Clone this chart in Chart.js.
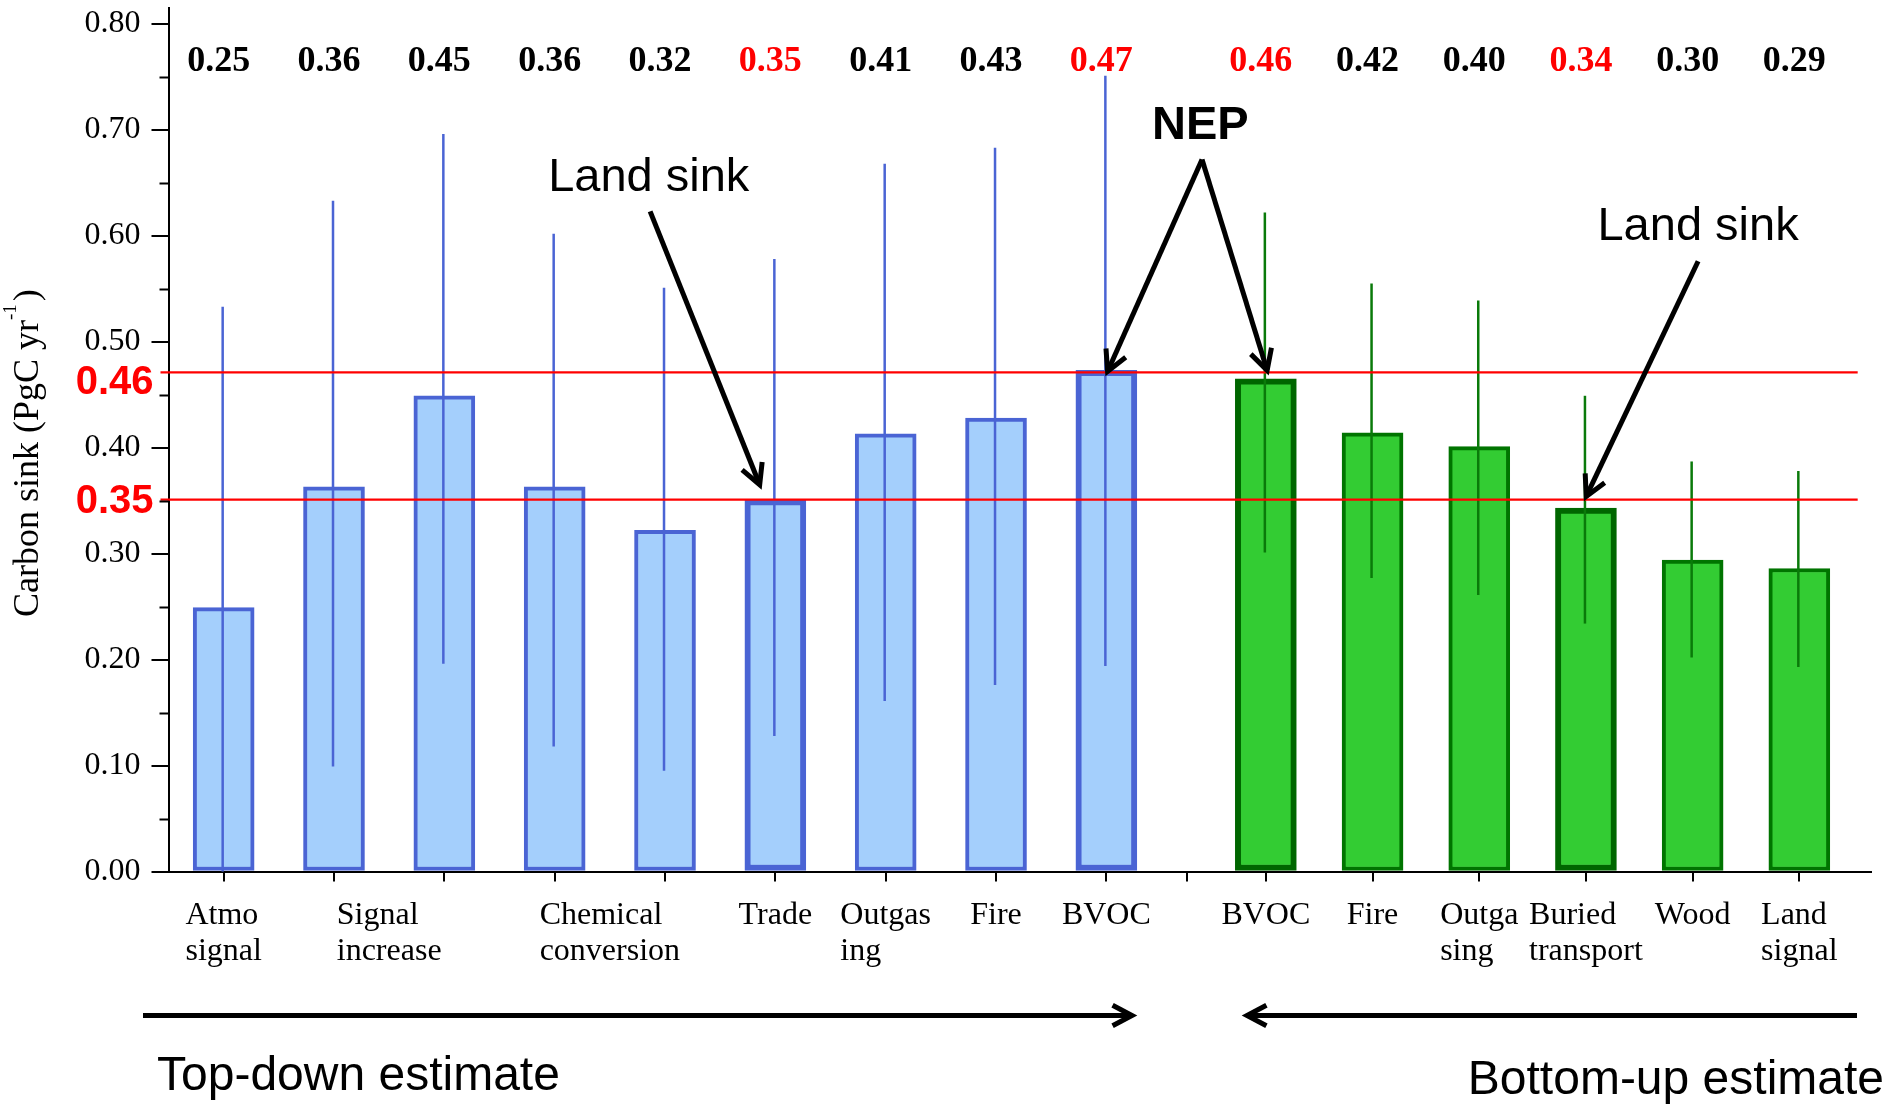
<!DOCTYPE html>
<html>
<head>
<meta charset="utf-8">
<title>Carbon sink estimates</title>
<script src="https://cdn.jsdelivr.net/npm/chart.js@4.4.1/dist/chart.umd.min.js"></script>
<style>
  html, body { margin: 0; padding: 0; background: #fff; overflow: hidden; }
  #wrap { width: 1895px; height: 1105px; }
</style>
</head>
<body>
<div id="wrap"><canvas id="chart" width="1895" height="1105"></canvas></div>
<script>
// ---------------------------------------------------------------------------
// DATA
// ---------------------------------------------------------------------------

// top-down estimate (blue); null = bar shares the label of the bar before it
const topDownLabels = [['Atmo', 'signal'], ['Signal', 'increase'], null, ['Chemical', 'conversion'], null,
  ['Trade'], ['Outgas', 'ing'], ['Fire'], ['BVOC']];
const topDownValues = [0.249, 0.363, 0.449, 0.363, 0.322, 0.351, 0.413, 0.428, 0.473];
const topDownLow    = [0.000, 0.099, 0.196, 0.118, 0.095, 0.128, 0.161, 0.176, 0.194];
const topDownHigh   = [0.533, 0.633, 0.696, 0.602, 0.551, 0.578, 0.668, 0.683, 0.751];
const topDownText   = ['0.25', '0.36', '0.45', '0.36', '0.32', '0.35', '0.41', '0.43', '0.47'];

// bottom-up estimate (green)
const bottomUpLabels = [['BVOC'], ['Fire'], ['Outga', 'sing'], ['Buried', 'transport'], ['Wood'], ['Land', 'signal']];
const bottomUpValues = [0.465, 0.414, 0.401, 0.343, 0.294, 0.286];
const bottomUpLow    = [0.301, 0.277, 0.261, 0.234, 0.202, 0.193];
const bottomUpHigh   = [0.622, 0.555, 0.539, 0.449, 0.387, 0.378];
const bottomUpText   = ['0.46', '0.42', '0.40', '0.34', '0.30', '0.29'];

// reference lines (land sink / NEP)
const refLineValues = [0.471, 0.351];
const refLineText   = ['0.46', '0.35'];

const yTickValues = [0, 0.1, 0.2, 0.3, 0.4, 0.5, 0.6, 0.7, 0.8];
const yMinorValues = [0.05, 0.15, 0.25, 0.35, 0.45, 0.55, 0.65, 0.75];

// ---------------------------------------------------------------------------
// STYLE / LAYOUT
// ---------------------------------------------------------------------------

const SERIF = "'Liberation Serif', 'Times New Roman', serif";
const SANS = "'Liberation Sans', Arial, sans-serif";

const BLUE_FILL = '#a4cffc';
const BLUE_EDGE = '#4a64d4';
const GREEN_FILL = '#33cc33';
const GREEN_EDGE = '#007400';
const GREEN_ERR = '#0a7a0a';
const RED = '#ff0000';

const topDownEmph = [5, 8];    // Trade, BVOC
const bottomUpEmph = [0, 3];   // BVOC, Buried transport

// x axis is in "slot" units: each top-down bar owns a slot of 1,
// then a small gap, then the bottom-up slots which are a bit narrower
const GAP = 0.462;
const RIGHT_SLOT = 0.967;
const X_MAX = 15.43;
const rightStart = topDownValues.length + GAP;
const topDownX = topDownValues.map((_, i) => i + 0.5);
const bottomUpX = bottomUpValues.map((_, i) => rightStart + (i + 0.5) * RIGHT_SLOT);
const xTickPositions = [];
for (let i = 0; i <= topDownValues.length; i++) xTickPositions.push(i);
for (let i = 0; i <= bottomUpValues.length; i++) xTickPositions.push(rightStart + i * RIGHT_SLOT);

// ---------------------------------------------------------------------------
// HELPERS
// ---------------------------------------------------------------------------

function _arrow(ctx, x1, y1, x2, y2, head, width) {
  ctx.lineWidth = width;
  ctx.lineCap = 'butt';
  ctx.lineJoin = 'miter';
  ctx.beginPath();
  ctx.moveTo(x1, y1);
  ctx.lineTo(x2, y2);
  ctx.stroke();
  const a = Math.atan2(y1 - y2, x1 - x2);
  const spread = 28 * Math.PI / 180;
  ctx.beginPath();
  ctx.moveTo(x2 + head * Math.cos(a + spread), y2 + head * Math.sin(a + spread));
  ctx.lineTo(x2, y2);
  ctx.lineTo(x2 + head * Math.cos(a - spread), y2 + head * Math.sin(a - spread));
  ctx.stroke();
}

function _drawErrors(chart, xs, lows, highs, color) {
  const { ctx, scales: { x, y } } = chart;
  ctx.save();
  ctx.strokeStyle = color;
  ctx.lineWidth = 2.5;
  xs.forEach((xv, i) => {
    const px = x.getPixelForValue(xv) - 1;
    ctx.beginPath();
    ctx.moveTo(px, y.getPixelForValue(lows[i]));
    ctx.lineTo(px, y.getPixelForValue(highs[i]));
    ctx.stroke();
  });
  ctx.restore();
}

function _drawValueTexts(chart, xs, texts, emph) {
  const { ctx, chartArea, scales: { x } } = chart;
  ctx.save();
  ctx.font = `bold 36px ${SERIF}`;
  ctx.textAlign = 'center';
  ctx.textBaseline = 'alphabetic';
  xs.forEach((xv, i) => {
    ctx.fillStyle = emph.includes(i) ? RED : '#000';
    ctx.fillText(texts[i], x.getPixelForValue(xv) - 5, chartArea.top + 63);
  });
  ctx.restore();
}

function _drawCategoryLabels(chart, xs, labels) {
  const { ctx, chartArea, scales: { x } } = chart;
  ctx.save();
  ctx.font = `32px ${SERIF}`;
  ctx.fillStyle = '#000';
  ctx.textAlign = 'left';
  ctx.textBaseline = 'alphabetic';
  labels.forEach((lines, i) => {
    if (!lines) return;
    let last = i;
    while (last + 1 < labels.length && labels[last + 1] === null) last++;
    const cx = (x.getPixelForValue(xs[i]) + x.getPixelForValue(xs[last])) / 2;
    const w = Math.max(...lines.map(l => ctx.measureText(l).width));
    lines.forEach((l, k) => {
      ctx.fillText(l, cx - w / 2, chartArea.bottom + 52 + k * 36);
    });
  });
  ctx.restore();
}

// ---------------------------------------------------------------------------
// PLUGIN: error bars, reference lines, annotations, texts
// ---------------------------------------------------------------------------

const decorations = {
  id: 'decorations',
  afterDatasetsDraw(chart) {
    const { ctx, chartArea, scales: { x, y } } = chart;

    _drawErrors(chart, topDownX, topDownLow, topDownHigh, BLUE_EDGE);
    _drawErrors(chart, bottomUpX, bottomUpLow, bottomUpHigh, GREEN_ERR);

    // red reference lines + labels
    ctx.save();
    ctx.strokeStyle = RED;
    ctx.lineWidth = 2.2;
    const lineEnd = x.getPixelForValue(xTickPositions[xTickPositions.length - 1]) + 5;
    const labelDy = [22, 13];
    refLineValues.forEach((v, i) => {
      const py = y.getPixelForValue(v);
      ctx.beginPath();
      ctx.moveTo(chartArea.left - 8, py);
      ctx.lineTo(lineEnd, py);
      ctx.stroke();
      ctx.font = `bold 40px ${SANS}`;
      ctx.fillStyle = RED;
      ctx.textAlign = 'right';
      ctx.fillText(refLineText[i], chartArea.left - 15, py + labelDy[i]);
    });
    ctx.restore();

    // annotations (positions in axis units)
    ctx.save();
    ctx.strokeStyle = '#000';
    ctx.fillStyle = '#000';
    const P = (xv, yv) => [x.getPixelForValue(xv), y.getPixelForValue(yv)];

    ctx.font = `47px ${SANS}`;
    ctx.textAlign = 'left';
    let p = P(3.441, 0.642);
    ctx.fillText('Land sink', p[0], p[1]);
    _arrow(ctx, ...P(4.365, 0.623), ...P(5.358, 0.365), 23, 5);

    p = P(12.951, 0.596);
    ctx.fillText('Land sink', p[0], p[1]);
    _arrow(ctx, ...P(13.863, 0.576), ...P(12.849, 0.354), 23, 5);

    ctx.font = `bold 47px ${SANS}`;
    ctx.textAlign = 'center';
    p = P(9.352, 0.691);
    ctx.fillText('NEP', p[0], p[1]);
    _arrow(ctx, ...P(9.367, 0.672), ...P(8.511, 0.472), 23, 5);
    _arrow(ctx, ...P(9.367, 0.672), ...P(9.957, 0.473), 23, 5);
    ctx.restore();

    _drawValueTexts(chart, topDownX, topDownText, topDownEmph);
    _drawValueTexts(chart, bottomUpX, bottomUpText, bottomUpEmph);
    _drawCategoryLabels(chart, topDownX, topDownLabels);
    _drawCategoryLabels(chart, bottomUpX, bottomUpLabels);
  },

  afterDraw(chart) {
    const { ctx, chartArea, scales: { y } } = chart;

    // minor y ticks
    ctx.save();
    ctx.strokeStyle = '#000';
    ctx.lineWidth = 2;
    yMinorValues.forEach(v => {
      const py = Math.round(y.getPixelForValue(v)) + 0.5;
      ctx.beginPath();
      ctx.moveTo(chartArea.left - 9, py);
      ctx.lineTo(chartArea.left, py);
      ctx.stroke();
    });
    ctx.restore();

    // y axis title with superscript
    ctx.save();
    ctx.translate(37.5, 617);
    ctx.rotate(-Math.PI / 2);
    ctx.fillStyle = '#000';
    ctx.textBaseline = 'alphabetic';
    ctx.textAlign = 'left';
    ctx.font = `36px ${SERIF}`;
    const main = 'Carbon sink (PgC yr';
    ctx.fillText(main, 0, 0);
    let cx = ctx.measureText(main).width;
    ctx.font = `19px ${SERIF}`;
    ctx.fillText('-1', cx, -22);
    cx += ctx.measureText('-1').width + 3;
    ctx.font = `36px ${SERIF}`;
    ctx.fillText(')', cx, 0);
    ctx.restore();

    // bottom arrows + estimate captions
    const ay = chartArea.bottom + 144;
    ctx.save();
    ctx.strokeStyle = '#000';
    ctx.fillStyle = '#000';
    _arrow(ctx, 143, ay, 1132, ay, 22, 5);
    _arrow(ctx, 1857, ay, 1247, ay, 22, 5);
    ctx.font = `48px ${SANS}`;
    ctx.textAlign = 'left';
    ctx.fillText('Top-down estimate', 157, chartArea.bottom + 218);
    ctx.textAlign = 'right';
    ctx.fillText('Bottom-up estimate', 1884, chartArea.bottom + 222);
    ctx.restore();
  }
};

// ---------------------------------------------------------------------------
// CHART
// ---------------------------------------------------------------------------

Chart.defaults.font.family = SERIF;
Chart.defaults.color = '#000';

new Chart(document.getElementById('chart'), {
  type: 'bar',
  data: {
    datasets: [
      {
        label: 'Top-down estimate',
        data: topDownValues.map((v, i) => ({ x: topDownX[i], y: v })),
        backgroundColor: BLUE_FILL,
        borderColor: BLUE_EDGE,
        borderWidth: (c) => topDownEmph.includes(c.dataIndex) ? 6 : 4,
        borderSkipped: false,
        barThickness: 61,
        grouped: false
      },
      {
        label: 'Bottom-up estimate',
        data: bottomUpValues.map((v, i) => ({ x: bottomUpX[i], y: v })),
        backgroundColor: GREEN_FILL,
        borderColor: (c) => bottomUpEmph.includes(c.dataIndex) ? '#006600' : GREEN_EDGE,
        borderWidth: (c) => bottomUpEmph.includes(c.dataIndex) ? 6 : 4,
        borderSkipped: false,
        barThickness: 61,
        grouped: false
      }
    ]
  },
  options: {
    responsive: false,
    animation: false,
    devicePixelRatio: 1,
    layout: { padding: { top: 8, right: 24, left: 0, bottom: 0 } },
    plugins: {
      legend: { display: false },
      tooltip: { enabled: false }
    },
    scales: {
      x: {
        type: 'linear',
        min: 0,
        max: X_MAX,
        offset: false,
        afterBuildTicks: (s) => { s.ticks = xTickPositions.map(v => ({ value: v })); },
        afterFit: (s) => { s.height = 233.5; s.paddingLeft = 0; s.paddingRight = 0; },
        ticks: { display: false },
        grid: { drawOnChartArea: false, drawTicks: true, tickLength: 10, color: '#000', lineWidth: 2 },
        border: { display: true, color: '#000', width: 2 }
      },
      y: {
        min: 0,
        max: 0.815,
        afterBuildTicks: (s) => { s.ticks = yTickValues.map(v => ({ value: v })); },
        afterFit: (s) => { s.width = 168.5; s.paddingTop = 0; s.paddingBottom = 0; },
        ticks: {
          font: { family: SERIF, size: 32 },
          color: '#000',
          padding: 11,
          callback: (v) => v.toFixed(2)
        },
        grid: { drawOnChartArea: false, drawTicks: true, tickLength: 17, color: '#000', lineWidth: 2 },
        border: { display: true, color: '#000', width: 2 }
      }
    }
  },
  plugins: [decorations]
});
</script>
</body>
</html>
